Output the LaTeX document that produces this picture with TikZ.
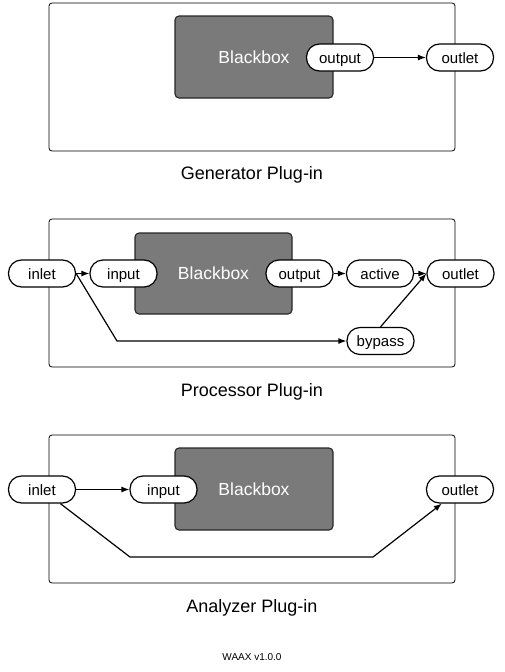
\documentclass[tikz,border=0pt]{standalone}
\usepackage{fontspec}
\setmainfont{Liberation Sans}
\usetikzlibrary{arrows.meta}

\definecolor{boxgray}{HTML}{7A7A7A}

\tikzset{
	panel/.style = {draw, line width=0.8pt, rounded corners=3pt},
	blackbox/.style = {draw=black!85, fill=boxgray, line width=1.1pt, rounded corners=4pt,
		text=white, font=\fontsize{17.5}{20}\selectfont},
	port/.style = {draw, fill=white, line width=1.2pt, rounded corners=13pt,
		minimum width=67pt, minimum height=27pt, inner sep=0pt, text height=12.5pt, text depth=1.5pt,
		font=\fontsize{15}{17}\selectfont},
	flow/.style = {line width=1.2pt, -{Latex[length=8pt,width=6pt]}},
	caption/.style = {font=\fontsize{18}{21}\selectfont}
}

\begin{document}
\begin{tikzpicture}[x=1pt,y=-1pt]
		\useasboundingbox (0,0) rectangle (504,672);
		% generator
		\draw[panel] (49,3) rectangle (455,151);
		\node[blackbox,minimum width=158pt,minimum height=82pt] (gbox) at (254,57) {Blackbox};
		\node[port] (goutput) at (340,57.5) {output};
		\node[port] (goutlet) at (460,57.5) {outlet};
		\draw[flow] (goutput) -- (goutlet);
		\node[caption] (gtitle) at (252,175) {Generator Plug-in};
		% processor
		\draw[panel] (49,219) rectangle (455,367);
		\node[blackbox,minimum width=157pt,minimum height=81pt] (pbox) at (213.5,273.5) {Blackbox};
		\node[port] (pinlet) at (42,273.5) {inlet};
		\node[port] (pinput) at (123.5,273.5) {input};
		\node[port] (poutput) at (299.5,273.5) {output};
		\node[port] (pactive) at (380,273.5) {active};
		\node[port] (poutlet) at (460.5,273.5) {outlet};
		\node[port] (pbypass) at (380.5,341) {bypass};
		\coordinate (pbend) at (117,341);
		\draw[flow] (pinlet) -- (pinput);
		\draw[flow] (poutput) -- (pactive);
		\draw[flow] (pactive) -- (poutlet);
		\draw[flow] (pinlet.east) -- (pbend) -- (pbypass.west);
		\draw[flow] (pbypass.north) -- (poutlet.west);
		\node[caption] (ptitle) at (252,392) {Processor Plug-in};
		% analyzer
		\draw[panel] (49,435) rectangle (455,583);
		\node[blackbox,minimum width=158pt,minimum height=82pt] (abox) at (254,489) {Blackbox};
		\node[port] (ainlet) at (42,489.5) {inlet};
		\node[port] (ainput) at (163.5,489.5) {input};
		\node[port] (aoutlet) at (460,489.5) {outlet};
		\coordinate (abend1) at (130,557);
		\coordinate (abend2) at (373,557);
		\draw[flow] (ainlet) -- (ainput);
		\draw[flow] (ainlet) -- (abend1) -- (abend2) -- (aoutlet);
		\node[caption] (atitle) at (252,608) {Analyzer Plug-in};
		\node[font=\fontsize{10}{12}\selectfont] (version) at (252,657) {WAAX v1.0.0};
\end{tikzpicture}
\end{document}
